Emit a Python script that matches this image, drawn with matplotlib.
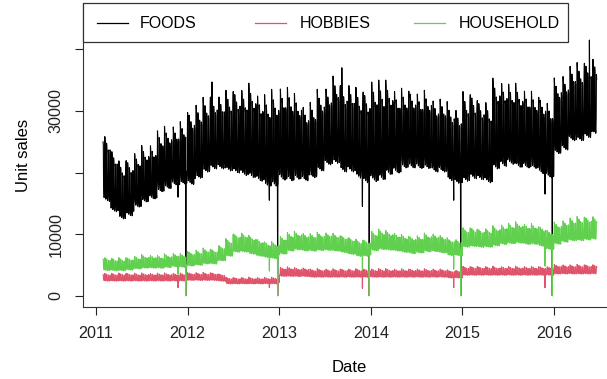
import numpy as np
import pandas as pd
import matplotlib
matplotlib.use("Agg")
import matplotlib.pyplot as plt
from matplotlib.patches import Rectangle
from matplotlib.lines import Line2D

plt.rcParams["font.family"] = ["Liberation Sans", "DejaVu Sans"]

# ---------------- data ----------------
series_names = ["FOODS", "HOBBIES", "HOUSEHOLD"]
series_colors = ["#000000", "#DF536B", "#61D04F"]
first_day = "2011-01-29"
last_day = "2016-06-19"

# monthly low / high levels, Jan 2011 .. Jun 2016 (66 months)
foods_low = [13500, 13000, 11500, 10500, 11000, 12500, 13300, 13800, 14800, 15300, 15800, 16000,
             15500, 16500, 17500, 18000, 18000, 17500, 17000, 16500, 16000, 15500, 14500, 14500,
             15500, 15500, 16000, 16000, 16500, 17500, 18500, 18500, 17000, 17000, 16000, 15000,
             15000, 15500, 16500, 17000, 18000, 18000, 18000, 18000, 17500, 17500, 16000, 15500,
             15500, 16000, 16000, 15500, 17500, 18000, 18500, 18000, 18000, 18000, 17000, 16500,
             20500, 21000, 22500, 22500, 23000, 23500]
foods_high = [27500, 26500, 24000, 22000, 22500, 23500, 24500, 25000, 27000, 27500, 28000, 28500,
              30500, 31500, 32500, 33000, 33000, 33500, 34000, 34000, 34500, 33500, 33000, 33500,
              34500, 34000, 33000, 31500, 32000, 33500, 34500, 36000, 35000, 35000, 34000, 34000,
              35500, 35000, 35000, 34000, 34000, 34000, 33500, 33500, 32500, 32500, 31500, 31000,
              33500, 33500, 32500, 32000, 35500, 35500, 35000, 34500, 34000, 33500, 33000, 32000,
              35500, 36500, 38000, 38000, 38500, 39000]
hobbies_low = [2100, 2100, 2100, 2100, 2100, 2100, 2100, 2100, 2100, 2100, 2100, 2100,
               2200, 2200, 2200, 2200, 2100, 1700, 1700, 1700, 1700, 1700, 1700, 1700,
               2800, 2800, 2800, 2800, 2700, 2700, 2700, 2700, 2700, 2700, 2700, 2700,
               2700, 2700, 2700, 2700, 2700, 2700, 2700, 2700, 2700, 2700, 2600, 2600,
               3000, 3000, 3000, 3000, 3000, 3000, 3000, 3000, 3000, 3000, 3000, 3000,
               3200, 3200, 3200, 3200, 3200, 3200]
hobbies_high = [3700, 3700, 3700, 3700, 3700, 3700, 3700, 3700, 3700, 3700, 3700, 3700,
                3800, 3800, 3800, 3800, 3600, 3000, 3000, 3000, 3000, 3000, 3000, 3000,
                4700, 4700, 4600, 4600, 4400, 4400, 4400, 4400, 4400, 4400, 4400, 4400,
                4400, 4400, 4400, 4400, 4400, 4400, 4400, 4400, 4400, 4400, 4200, 4200,
                4800, 4800, 4800, 4800, 4800, 4800, 4800, 4800, 4800, 4800, 4800, 4800,
                5100, 5100, 5100, 5100, 5100, 5100]
household_low = [3800, 3600, 3600, 3600, 3700, 3900, 4000, 4000, 4000, 4100, 4200, 4100,
                 4300, 4400, 4600, 4600, 5100, 5800, 6400, 6400, 6100, 5800, 5600, 5400,
                 6100, 6600, 6800, 6600, 6600, 6700, 6700, 6600, 6400, 6100, 5800, 5800,
                 6600, 6800, 6700, 6600, 6400, 6200, 6300, 6500, 6500, 6300, 5900, 5900,
                 7200, 7300, 7200, 7200, 7400, 7600, 7700, 7800, 7600, 7600, 7300, 6800,
                 7600, 7900, 8100, 8100, 8200, 8300]
household_high = [6400, 6300, 6200, 6200, 6300, 6500, 6700, 6700, 6600, 6800, 7000, 6900,
                  7300, 7500, 7800, 7700, 8300, 9300, 10200, 10300, 9800, 9300, 8800, 8800,
                  9800, 10300, 10500, 10300, 10200, 10300, 10400, 10200, 9900, 9600, 9200, 9200,
                  10600, 10800, 10600, 10300, 10000, 9800, 9900, 10200, 10200, 9900, 9400, 9300,
                  11100, 11200, 11000, 11000, 11400, 11700, 11900, 12000, 11800, 11800, 11400, 10800,
                  12000, 12400, 12800, 12900, 13000, 13000]

# share of the swing reached on each weekday (Mon..Sun)
week_profile = [0.42, 0.28, 0.22, 0.24, 0.45, 1.00, 0.95]
# share reached on each day of the month (1..31), higher early in the month
month_day_profile = [1.00, 0.99, 0.98, 0.96, 0.95, 0.94, 0.92, 0.91, 0.90, 0.89,
                     0.88, 0.87, 0.86, 0.85, 0.84, 0.82, 0.81, 0.80, 0.79, 0.78,
                     0.78, 0.78, 0.78, 0.78, 0.78, 0.79, 0.80, 0.81, 0.82, 0.83, 0.84]

# special days
christmas_days = ["2011-12-25", "2012-12-25", "2013-12-25", "2014-12-25", "2015-12-25"]
christmas_foods = [15, 15, 15, 15, 15]
christmas_hobbies = [5, 5, 5, 5, 5]
christmas_household = [10, 10, 10, 10, 10]
thanksgiving_days = ["2011-11-24", "2012-11-22", "2013-11-28", "2014-11-27", "2015-11-26"]
thanksgiving_foods = [16000, 15500, 14500, 15500, 16500]
thanksgiving_hobbies = [1300, 1300, 1200, 1300, 1300]
thanksgiving_household = [3500, 4000, 4200, 4300, 4800]
foods_peak_days = ["2012-04-07", "2013-09-07", "2016-05-21"]
foods_peak_values = [34700, 37000, 41500]

x_tick_years = [2011, 2012, 2013, 2014, 2015, 2016]
y_ticks = [0, 10000, 20000, 30000, 40000]
y_tick_labels = ["0", "10000", "", "30000", ""]

# ---------------- assemble daily series ----------------
dates = pd.date_range(first_day, last_day, freq="D")
midx = (dates.year - 2011) * 12 + dates.month - 1
shape = np.array(week_profile)[dates.dayofweek] * np.array(month_day_profile)[dates.day - 1]


def build(low, high):
    low = np.array(low, float)[midx]
    high = np.array(high, float)[midx]
    return pd.Series(low + (high - low) * shape, index=dates)


foods = build(foods_low, foods_high)
hobbies = build(hobbies_low, hobbies_high)
household = build(household_low, household_high)
for d, a, b, c in zip(christmas_days, christmas_foods, christmas_hobbies, christmas_household):
    foods[d], hobbies[d], household[d] = a, b, c
for d, a, b, c in zip(thanksgiving_days, thanksgiving_foods, thanksgiving_hobbies, thanksgiving_household):
    foods[d], hobbies[d], household[d] = a, b, c
for d, v in zip(foods_peak_days, foods_peak_values):
    foods[d] = v

# ---------------- figure ----------------
W, H, DPI = 607, 379, 100
fig = plt.figure(figsize=(W / DPI, H / DPI), dpi=DPI)
ax_l, ax_r, ax_t, ax_b = 83, 616, 3.3, 306.7
ax = fig.add_axes([ax_l / W, 1 - ax_b / H, (ax_r - ax_l) / W, (ax_b - ax_t) / H])

for s, c in zip([foods, hobbies, household], series_colors):
    ax.plot(s.index, s.values, color=c, lw=0.8)

ax.set_xlim(pd.Timestamp("2010-11-10"), pd.Timestamp("2016-09-04"))
ax.set_ylim(-1786, 47468)

ax.set_xticks([pd.Timestamp(f"{y}-01-01") for y in x_tick_years])
ax.set_xticklabels([str(y) for y in x_tick_years], fontsize=11.6)
ax.set_yticks(y_ticks)
ax.set_yticklabels(y_tick_labels, rotation=90, va="center", fontsize=11.6)
ax.tick_params(length=5.8, width=0.8, pad=8, colors="#222222")

for side in ["top", "right"]:
    ax.spines[side].set_visible(False)
for side in ["left", "bottom"]:
    ax.spines[side].set_linewidth(0.8)
    ax.spines[side].set_color("#333333")

ax.set_xlabel("Date", fontsize=12, labelpad=14)
ax.set_ylabel("Unit sales", fontsize=12, labelpad=13)

# legend drawn like R's horizontal boxed legend
aw = ax_r - ax_l
ah = ax_b - ax_t
def fx(px):
    return (px - ax_l) / aw
def fy(py):
    return 1 - (py - ax_t) / ah

ax.add_patch(Rectangle((fx(83), fy(41.7)), fx(567.5) - fx(83), fy(3.3) - fy(41.7),
                       transform=ax.transAxes, facecolor="white", edgecolor="#333333",
                       lw=0.9, zorder=5, clip_on=False))
line_starts = [97, 255, 414]
text_starts = [140, 300, 459]
for name, c, ls, ts in zip(series_names, series_colors, line_starts, text_starts):
    ax.add_line(Line2D([fx(ls), fx(ls + 31)], [fy(22.5), fy(22.5)], color=c, lw=0.9,
                       transform=ax.transAxes, zorder=6, clip_on=False))
    ax.text(fx(ts), fy(22.5), name, transform=ax.transAxes, ha="left", va="center_baseline",
            fontsize=11.5, zorder=6)

fig.savefig("out.png", dpi=DPI)
